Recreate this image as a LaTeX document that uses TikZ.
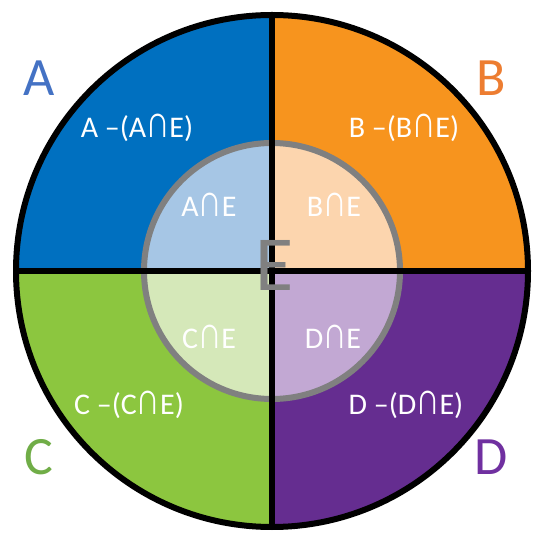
\documentclass[tikz,border=0pt]{standalone}
\usepackage{fontspec}
\setmainfont{Carlito}
\usetikzlibrary{positioning}
\definecolor{setA}{HTML}{0070C0}
\definecolor{setB}{HTML}{F7941E}
\definecolor{setC}{HTML}{8CC63F}
\definecolor{setD}{HTML}{652D90}
\definecolor{capA}{HTML}{A6C6E5}
\definecolor{capB}{HTML}{FCD5AE}
\definecolor{capC}{HTML}{D5E8B9}
\definecolor{capD}{HTML}{C2A8D3}
\definecolor{nameA}{HTML}{4472C4}
\definecolor{nameB}{HTML}{ED7D31}
\definecolor{nameC}{HTML}{70AD47}
\definecolor{nameD}{HTML}{7030A0}
\definecolor{ringgray}{HTML}{808080}
\newcommand{\capsign}{\scalebox{1.1}[1.5]{∩}}

\begin{document}
\begin{tikzpicture}[x=1pt, y=1pt]
    \tikzset{setname/.style={font=\fontsize{54}{56}\selectfont}, partlabel/.style={text=white, font=\fontsize{30}{32}\selectfont}, divider/.style={line width=6pt}}
    \useasboundingbox (0,0) rectangle (533,533);
    \coordinate (O) at (272,262);
    % outer quadrants
    \fill[setA] (O) -- ++(0,256) arc (90:180:256) -- cycle;
    \fill[setB] (O) -- ++(256,0) arc (0:90:256) -- cycle;
    \fill[setC] (O) -- ++(-256,0) arc (180:270:256) -- cycle;
    \fill[setD] (O) -- ++(0,-256) arc (270:360:256) -- cycle;
    \node[circle, draw, divider, minimum size=512pt, inner sep=0pt] (outer) at (O) {};
    % inner quadrants (E)
    \fill[capA] (O) -- ++(0,128) arc (90:180:128) -- cycle;
    \fill[capB] (O) -- ++(128,0) arc (0:90:128) -- cycle;
    \fill[capC] (O) -- ++(-128,0) arc (180:270:128) -- cycle;
    \fill[capD] (O) -- ++(0,-128) arc (270:360:128) -- cycle;
    \node[circle, draw=ringgray, divider, minimum size=256pt, inner sep=0pt] (inner) at (O) {};
    \draw[divider] (outer.north) -- (outer.south);
    \draw[divider] (outer.west) -- (outer.east);
    % labels
    \node[setname, text=nameA] (nA) at (39,455) {A};
    \node[setname, text=nameB] (nB) at (491,455) {B};
    \node[setname, text=nameC] (nC) at (39,76) {C};
    \node[setname, text=nameD] (nD) at (491,76) {D};
    \node[partlabel] (onlyA) at (137,405) {A –(A\capsign E)};
    \node[partlabel] (onlyB) at (404,405) {B –(B\capsign E)};
    \node[partlabel] (onlyC) at (129,128) {C –(C\capsign E)};
    \node[partlabel] (onlyD) at (406,128) {D –(D\capsign E)};
    \node[partlabel] (AE) at (209,328) {A\capsign E};
    \node[partlabel] (BE) at (334,328) {B\capsign E};
    \node[partlabel] (CE) at (209,196) {C\capsign E};
    \node[partlabel] (DE) at (333,196) {D\capsign E};
    \node[text=ringgray, font=\fontsize{78}{80}\selectfont] (E) at (275,268) {E};
\end{tikzpicture}
\end{document}
